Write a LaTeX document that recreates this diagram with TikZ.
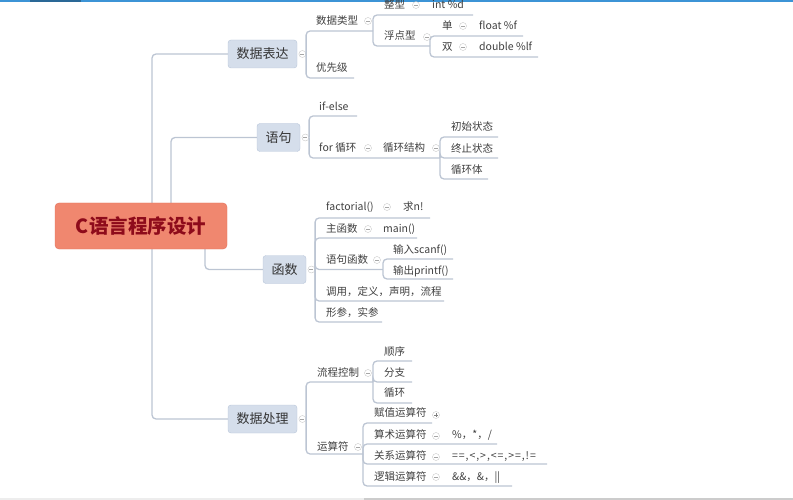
\documentclass[tikz,border=0pt]{standalone}
\usepackage{fontspec}
\setmainfont{Noto Sans CJK SC}
\usetikzlibrary{positioning,backgrounds}
\definecolor{linegray}{HTML}{BCC5D3}
\definecolor{rootfill}{HTML}{F0876F}
\definecolor{rootline}{HTML}{E2705A}
\definecolor{roottext}{HTML}{8E0B1B}
\definecolor{topicfill}{HTML}{D5DEEB}
\definecolor{topicline}{HTML}{B8C5D9}
\definecolor{subtext}{HTML}{3F3F3F}
\definecolor{topblue}{HTML}{3C94D6}
\tikzstyle{root} = [draw=rootline, fill=rootfill, rounded corners=4pt, minimum width=172pt, minimum height=46pt, text=roottext, font=\fontsize{19.5}{22}\selectfont\bfseries]
\tikzstyle{topic} = [draw=topicline, fill=topicfill, rounded corners=3pt, inner xsep=8.5pt, minimum height=28pt, text=black!80, font=\fontsize{13}{15}\selectfont]
\tikzstyle{sub} = [anchor=west, inner sep=0pt, text height=8.5pt, text depth=2pt, text=subtext, font=\fontsize{10.5}{12}\selectfont]
\tikzstyle{fold} = [circle, draw=black!22, minimum size=7pt, inner sep=0pt, path picture={\draw[black!35] ([xshift=-2pt]path picture bounding box.center) -- ([xshift=2pt]path picture bounding box.center);}]
\tikzstyle{unfold} = [circle, draw=black!22, minimum size=7pt, inner sep=0pt, path picture={\draw[black!50] ([xshift=-2pt]path picture bounding box.center) -- ([xshift=2pt]path picture bounding box.center) ([yshift=-2pt]path picture bounding box.center) -- ([yshift=2pt]path picture bounding box.center);}]
\tikzstyle{link} = [draw=linegray, line width=1.3pt, rounded corners=4pt]

\begin{document}
\begin{tikzpicture}[x=1pt,y=-1pt]
    \useasboundingbox (0,0) rectangle (793,500);
    \fill[topblue] (0,0) rectangle (793,2);
    \fill[topblue!70!black] (30,0) rectangle (81,2.5);
    \fill[black!7] (0,497.5) rectangle (364,500);
    \fill[black!20] (364,497.5) rectangle (793,500);

    \draw (141,226) node[root] (r) {C语言程序设计};
    \draw (262.5,54) node[topic] (a) {数据表达};
    \draw (278.5,137.5) node[topic] (b) {语句};
    \draw (284.5,269.5) node[topic] (c) {函数};
    \draw (262.5,419) node[topic] (d) {数据处理};
    \node[fold, right=1.5pt of a] (ak) {};
    \node[fold, right=1.5pt of b] (bk) {};
    \node[fold, right=1.5pt of c] (ck) {};
    \node[fold, right=1.5pt of d] (dk) {};

    \draw (316,21) node[sub] (a1) {数据类型};
    \draw (368,21) node[fold] (a1k) {};
    \coordinate (a1u) at (373,31);
    \draw (316,68) node[sub] (a2) {优先级};
    \coordinate (a2u) at (354,78);
    \draw (384,5) node[sub] (a11) {整型};
    \draw (416,5) node[fold] (a11k) {};
    \draw (432,5) node[sub] (a11v) {int \%d};
    \coordinate (a11u) at (473,15);
    \draw (384,36) node[sub] (a12) {浮点型};
    \draw (427,37) node[fold] (a12k) {};
    \coordinate (a12u) at (430,46);
    \draw (442,26) node[sub] (a121) {单};
    \draw (463,26) node[fold] (a121k) {};
    \draw (479,26) node[sub] (a121v) {float \%f};
    \coordinate (a121u) at (523,36);
    \draw (442,47) node[sub] (a122) {双};
    \draw (463,47) node[fold] (a122k) {};
    \draw (479,47) node[sub] (a122v) {double \%lf};
    \coordinate (a122u) at (538,57);

    \draw (319,107) node[sub] (b1) {if-else};
    \coordinate (b1u) at (357,116);
    \draw (319,148) node[sub] (b2) {for 循环};
    \draw (368,148) node[fold] (b2k) {};
    \draw (383,148) node[sub] (b2v) {循环结构};
    \draw (436,148) node[fold] (b2vk) {};
    \coordinate (b2u) at (440,158);
    \draw (451,127) node[sub] (b21) {初始状态};
    \coordinate (b21u) at (498,137);
    \draw (451,149) node[sub] (b22) {终止状态};
    \coordinate (b22u) at (498,158);
    \draw (451,170) node[sub] (b23) {循环体};
    \coordinate (b23u) at (488,179);

    \draw (326,207) node[sub] (c1) {factorial()};
    \draw (387,207) node[fold] (c1k) {};
    \draw (403,207) node[sub] (c1v) {求n!};
    \coordinate (c1u) at (430,218);
    \draw (326,229) node[sub] (c2) {主函数};
    \draw (368,229) node[fold] (c2k) {};
    \draw (383,229) node[sub] (c2v) {main()};
    \coordinate (c2u) at (417,238);
    \draw (326,260) node[sub] (c3) {语句函数};
    \draw (377,260) node[fold] (c3k) {};
    \coordinate (c3u) at (383,269.5);
    \draw (393,250) node[sub] (c31) {输入scanf()};
    \coordinate (c31u) at (453,259);
    \draw (393,271) node[sub] (c32) {输出printf()};
    \coordinate (c32u) at (453,279);
    \draw (326,292) node[sub] (c4) {调用，定义，声明，流程};
    \coordinate (c4u) at (444,301);
    \draw (326,313) node[sub] (c5) {形参，实参};
    \coordinate (c5u) at (382,322);

    \draw (317,373) node[sub] (d1) {流程控制};
    \draw (368,373) node[fold] (d1k) {};
    \coordinate (d1u) at (373,382);
    \draw (384,352) node[sub] (d11) {顺序};
    \coordinate (d11u) at (412,361);
    \draw (384,373) node[sub] (d12) {分支};
    \coordinate (d12u) at (412,382);
    \draw (384,393) node[sub] (d13) {循环};
    \coordinate (d13u) at (412,403);
    \draw (317,447) node[sub] (d2) {运算符};
    \draw (358,447) node[fold] (d2k) {};
    \coordinate (d2u) at (363,454);
    \draw (374,413) node[sub] (d21) {赋值运算符};
    \draw (436,415) node[unfold] (d21k) {};
    \coordinate (d21u) at (432,423);
    \draw (374,435) node[sub] (d22) {算术运算符};
    \draw (436,436) node[fold] (d22k) {};
    \draw (452,435) node[sub] (d22v) {\%，*，/};
    \coordinate (d22u) at (497,444);
    \draw (374,456) node[sub] (d23) {关系运算符};
    \draw (436,457) node[fold] (d23k) {};
    \draw (452,456) node[sub] (d23v) {\addfontfeature{LetterSpace=9}==,<,>,<=,>=,!=};
    \coordinate (d23u) at (547,464);
    \draw (374,477) node[sub] (d24) {逻辑运算符};
    \draw (436,477) node[fold] (d24k) {};
    \draw (452,477) node[sub] (d24v) {\&\&，\&，||};
    \coordinate (d24u) at (512,486);

    \begin{scope}[on background layer]
    \draw[link] ([xshift=11pt]r.center) |- (a.west);
    \draw[link] ([xshift=11pt]r.center) |- (d.west);
    \draw[link] ([xshift=30pt]r.center) |- (b.west);
    \draw[link] ([xshift=64pt]r.center) |- (c.west);
    \end{scope}

    \draw[link] (ak.east) |- (a1u);
    \draw[link] (ak.east) |- (a2u);
    \draw[link] (a1u) |- (a11u);
    \draw[link] (a1u) |- (a12u);
    \draw[link] (a12u) |- (a121u);
    \draw[link] (a12u) |- (a122u);

    \draw[link] (bk.east) |- (b1u);
    \draw[link] (bk.east) |- (b2u);
    \draw[link] (b2u) |- (b21u);
    \draw[link] (b2u) |- (b22u);
    \draw[link] (b2u) |- (b23u);

    \draw[link] (ck.east) |- (c1u);
    \draw[link] (ck.east) |- (c2u);
    \draw[link] (ck.east) |- (c3u);
    \draw[link] (ck.east) |- (c4u);
    \draw[link] (ck.east) |- (c5u);
    \draw[link] (c3u) |- (c31u);
    \draw[link] (c3u) |- (c32u);

    \draw[link] (dk.east) |- (d1u);
    \draw[link] (dk.east) |- (d2u);
    \draw[link] (d1u) |- (d11u);
    \draw[link] (d1u) |- (d12u);
    \draw[link] (d1u) |- (d13u);
    \draw[link] (d2u) |- (d21u);
    \draw[link] (d2u) |- (d22u);
    \draw[link] (d2u) |- (d23u);
    \draw[link] (d2u) |- (d24u);
\end{tikzpicture}
\end{document}
